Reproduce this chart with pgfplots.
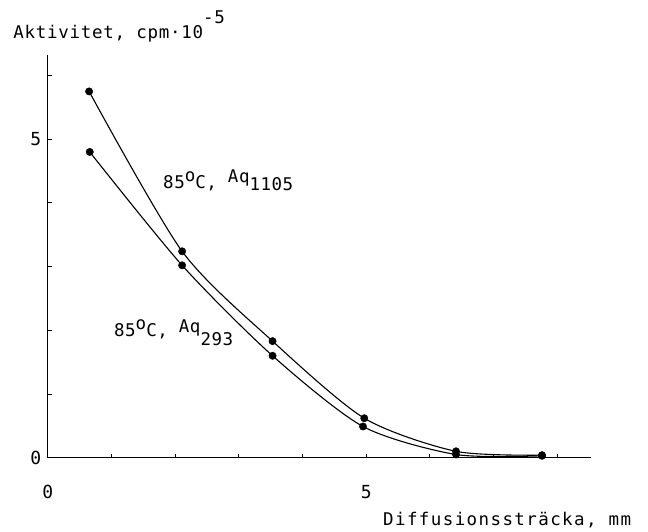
\documentclass[border=0pt]{standalone}
\usepackage{fontspec}
\setmainfont{DejaVu Sans Mono}[LetterSpace=3]
\usepackage{pgfplots}
\pgfplotsset{compat=1.18}
\begin{document}
\begin{tikzpicture}
\begin{axis}[
  at={(0,0)}, anchor=origin,
  x=63.7pt, y=63.7pt,
  xmin=0, xmax=8.53, ymin=0, ymax=6.32,
  axis x line=bottom, axis y line=left,
  axis line style={-, line width=1pt, black},
  xtick={0,...,8}, xticklabels={0,,,,,5,,,},
  ytick={0,...,6}, yticklabels={0,,,,,5,},
  tick align=inside, major tick length=4pt,
  tick style={line width=0.9pt, black},
  /pgf/number format/assume math mode=true,
  ticklabel style={font=\fontsize{18}{21}\selectfont},
  xticklabel style={yshift=-24pt},
  yticklabel style={xshift=-3pt},
  clip=false,
]
\addplot[black, line width=1.1pt, smooth, tension=0.45, mark=*, mark size=3.7pt,
  mark options={solid, fill=black, line width=0.4pt}]
  coordinates {(0.65,5.75) (2.11,3.24) (3.53,1.83) (4.97,0.62) (6.41,0.10) (7.76,0.04)};
\addplot[black, line width=1.1pt, smooth, tension=0.45, mark=*, mark size=3.7pt,
  mark options={solid, fill=black, line width=0.4pt}]
  coordinates {(0.66,4.80) (2.11,3.02) (3.53,1.60) (4.95,0.49) (6.41,0.05) (7.76,0.03)};
\node[anchor=base west, inner sep=0pt, font=\fontsize{17.5}{20}\selectfont]
  at (axis cs:1.81,4.23) {85\raisebox{7pt}{o}C, \raisebox{6pt}{Aq}\raisebox{-2pt}{1105}};
\node[anchor=base west, inner sep=0pt, font=\fontsize{17.5}{20}\selectfont]
  at (axis cs:1.04,1.895) {85\raisebox{7pt}{o}C, \raisebox{4pt}{Aq}\raisebox{-9pt}{293}};
\end{axis}
\node[anchor=base west, inner sep=0pt, font=\fontsize{17.5}{20}\selectfont\addfontfeatures{LetterSpace=4}]
  at (-34.4pt,419pt) {Aktivitet, cpm·10\raisebox{15pt}{-5}};
\node[anchor=base west, inner sep=0pt, font=\fontsize{17.5}{20}\selectfont\addfontfeatures{LetterSpace=8}]
  at (335.3pt,-68pt) {Diffusionssträcka, mm};
\pgfresetboundingbox
\useasboundingbox (-47.7pt,-73.3pt) rectangle (600.3pt,457.7pt);
\end{tikzpicture}
\end{document}
